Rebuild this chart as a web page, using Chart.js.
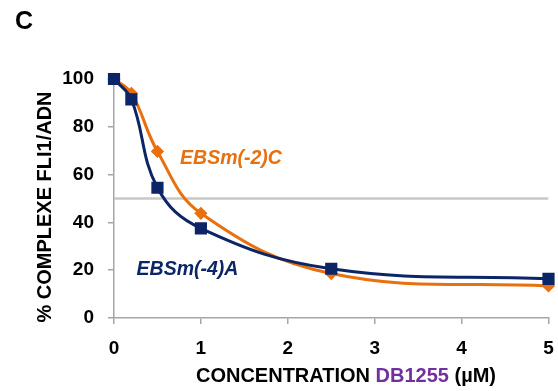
<!DOCTYPE html>
<html>
<head>
<meta charset="utf-8">
<script src="https://cdn.jsdelivr.net/npm/chart.js@4.4.1/dist/chart.umd.min.js"></script>
<style>
  html, body { margin: 0; padding: 0; background: #fff; }
  #wrap { width: 558px; height: 391px; }
</style>
</head>
<body>
<div id="wrap"><canvas id="chart" width="558" height="391"></canvas></div>
<script>
// concentrations (µM) and % complex for each probe
const conc = [0, 0.2, 0.5, 1, 2.5, 5];
const ebsm4A = [100, 91.5, 54.5, 37.5, 20.6, 16.4];
const ebsm2C = [100, 94, 69.7, 43.8, 18.6, 13.4];
const halfLine = [50, 50];
const halfX = [0, 5];
const xTicks = [0, 1, 2, 3, 4, 5];
const yTicks = [0, 20, 40, 60, 80, 100];

const BLUE = '#0b2566';
const ORANGE = '#e8700e';
const AXIS = '#a6a6a6';
const FONT = '"Liberation Sans", Arial, sans-serif';

function pts(xs, ys) {
    return xs.map((x, i) => ({ x: x, y: ys[i] }));
}

// text drawn on top: panel letter, axis titles, curve labels
const annotations = {
    id: 'annotations',
    afterDraw(chart) {
        const ctx = chart.ctx;
        const x = chart.scales.x, y = chart.scales.y;
        ctx.save();
        ctx.textBaseline = 'middle';

        ctx.fillStyle = '#000';
        ctx.font = 'bold 25px ' + FONT;
        ctx.textAlign = 'center';
        ctx.fillText('C', 24, 22);

        // x title with the coloured compound name
        ctx.font = 'bold 20px ' + FONT;
        const parts = [['CONCENTRATION ', '#000'], ['DB1255', '#7030a0'], [' (\u00b5M)', '#000']];
        const total = parts.reduce((s, p) => s + ctx.measureText(p[0]).width, 0);
        let cx = 346 - total / 2;
        ctx.textAlign = 'left';
        parts.forEach(p => {
            ctx.fillStyle = p[1];
            ctx.fillText(p[0], cx, 376);
            cx += ctx.measureText(p[0]).width;
        });

        // y title
        ctx.save();
        ctx.translate(45, 207);
        ctx.rotate(-Math.PI / 2);
        ctx.textAlign = 'center';
        ctx.fillStyle = '#000';
        ctx.font = 'bold 20px ' + FONT;
        ctx.fillText('% COMPLEXE FLI1/ADN', 0, 0);
        ctx.restore();

        // series labels
        ctx.font = 'italic bold 19.5px ' + FONT;
        ctx.textAlign = 'left';
        ctx.fillStyle = ORANGE;
        ctx.fillText('EBSm(-2)C', x.getPixelForValue(0.76), y.getPixelForValue(66.5));
        ctx.fillStyle = BLUE;
        ctx.fillText('EBSm(-4)A', x.getPixelForValue(0.26), y.getPixelForValue(20.3));
        ctx.restore();
    }
};

new Chart(document.getElementById('chart'), {
    type: 'line',
    data: {
        datasets: [
            {
                label: 'EBSm(-4)A',
                data: pts(conc, ebsm4A),
                borderColor: BLUE,
                backgroundColor: BLUE,
                borderWidth: 3,
                pointStyle: 'rect',
                pointRadius: 6.5,
                pointHoverRadius: 6.5,
                tension: 0.4,
                clip: false
            },
            {
                label: 'EBSm(-2)C',
                data: pts(conc, ebsm2C),
                borderColor: ORANGE,
                backgroundColor: ORANGE,
                borderWidth: 3,
                pointStyle: 'rectRot',
                pointRadius: 4.5,
                pointHoverRadius: 4.5,
                tension: 0.4,
                clip: false
            },
            {
                label: '50%',
                data: pts(halfX, halfLine),
                borderColor: '#c8c8c8',
                borderWidth: 2.5,
                pointRadius: 0,
                tension: 0
            }
        ]
    },
    options: {
        responsive: false,
        animation: false,
        layout: { padding: { top: 79, right: 6, left: 0, bottom: 0 } },
        plugins: {
            legend: { display: false },
            tooltip: { enabled: false }
        },
        scales: {
            x: {
                type: 'linear',
                min: 0,
                max: 5,
                afterBuildTicks: s => { s.ticks = xTicks.map(v => ({ value: v })); },
                afterFit: s => { s.height = 73; s.paddingLeft = 0; s.paddingRight = 0; },
                grid: { display: true, drawOnChartArea: false, color: AXIS, tickLength: 6, lineWidth: 1.5 },
                border: { color: AXIS, width: 1.5 },
                ticks: {
                    color: '#000',
                    padding: 13,
                    maxRotation: 0,
                    font: { family: FONT, size: 19, weight: 'bold' }
                }
            },
            y: {
                min: 0,
                max: 100,
                afterBuildTicks: s => { s.ticks = yTicks.map(v => ({ value: v })); },
                afterFit: s => { s.width = 114; s.paddingTop = 0; s.paddingBottom = 0; },
                grid: { display: true, drawOnChartArea: false, color: AXIS, tickLength: 6, lineWidth: 1.5 },
                border: { color: AXIS, width: 1.5 },
                ticks: {
                    color: '#000',
                    padding: 14,
                    font: { family: FONT, size: 19, weight: 'bold' }
                }
            }
        }
    },
    plugins: [annotations]
});
</script>
</body>
</html>
